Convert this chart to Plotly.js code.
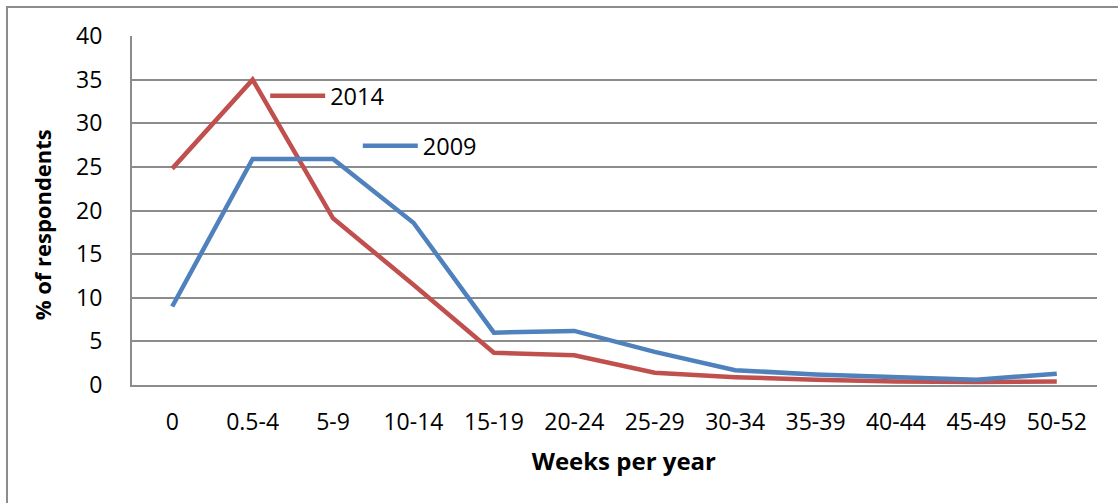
<!DOCTYPE html>
<html>
<head>
<meta charset="utf-8">
<script src="https://cdn.plot.ly/plotly-3.0.1.min.js"></script>
<style>
  html, body { margin: 0; padding: 0; background: #ffffff; }
  #frame { position: absolute; left: 6px; top: 6px; width: 1130px; height: 520px;
           border-left: 2px solid #8c8c8c; border-top: 2px solid #8c8c8c; }
  #chart { position: absolute; left: 0; top: 0; width: 1118px; height: 503px; }
</style>
</head>
<body>
<div id="frame"></div>
<div id="chart"></div>
<script>
const categories = ['0', '0.5-4', '5-9', '10-14', '15-19', '20-24', '25-29', '30-34', '35-39', '40-44', '45-49', '50-52'];
const values2014 = [24.8, 35.0, 19.1, 11.5, 3.7, 3.4, 1.4, 0.9, 0.6, 0.4, 0.35, 0.4];
const values2009 = [9.0, 25.9, 25.9, 18.6, 6.0, 6.2, 3.8, 1.7, 1.2, 0.9, 0.6, 1.3];
const seriesNames = ['2014', '2009'];
const yTicks = [0, 5, 10, 15, 20, 25, 30, 35, 40];

const FONT = 'Open Sans, Liberation Sans, sans-serif';

const traces = [
  { x: categories, y: values2014, name: seriesNames[0], type: 'scatter', mode: 'lines',
    line: { color: '#C0504D', width: 4.5 }, legend: 'legend' },
  { x: categories, y: values2009, name: seriesNames[1], type: 'scatter', mode: 'lines',
    line: { color: '#4F81BD', width: 4.5 }, legend: 'legend2' }
];

const layout = {
  width: 1118, height: 503,
  paper_bgcolor: 'rgba(0,0,0,0)', plot_bgcolor: 'rgba(0,0,0,0)',
  margin: { l: 132, r: 21, t: 36, b: 118 },
  font: { family: FONT, size: 23, color: '#000' },
  showlegend: true,
  legend: { x: 0.138, y: 0.828, xanchor: 'left', yanchor: 'middle', bgcolor: 'rgba(0,0,0,0)',
            font: { family: FONT, size: 23.5, color: '#000' }, itemwidth: 55 },
  legend2: { x: 0.234, y: 0.685, xanchor: 'left', yanchor: 'middle', bgcolor: 'rgba(0,0,0,0)',
            font: { family: FONT, size: 23.5, color: '#000' }, itemwidth: 55 },
  xaxis: {
    type: 'category', range: [-0.5, 11.5], showgrid: false, zeroline: false,
    showline: true, linecolor: '#8c8c8c', linewidth: 2,
    ticks: '', ticklabelstandoff: 15,
    tickfont: { family: FONT, size: 23, color: '#000' },
    title: { text: '&nbsp;&nbsp;&nbsp;<b>Weeks per year</b>', font: { family: FONT, size: 24, color: '#000' }, standoff: 18 },
    fixedrange: true
  },
  yaxis: {
    range: [0, 40], tickvals: yTicks, showgrid: true, gridcolor: '#8c8c8c', gridwidth: 2,
    zeroline: false, showline: true, linecolor: '#8c8c8c', linewidth: 2,
    ticks: '', ticklabelstandoff: 23,
    tickfont: { family: FONT, size: 23, color: '#000' },
    title: { text: '<b>% of respondents</b>&nbsp;&nbsp;&nbsp;&nbsp;&nbsp;', font: { family: FONT, size: 22, color: '#000' }, standoff: 18 },
    fixedrange: true
  }
};

Plotly.newPlot('chart', traces, layout, { displayModeBar: false, staticPlot: true });
</script>
</body>
</html>
